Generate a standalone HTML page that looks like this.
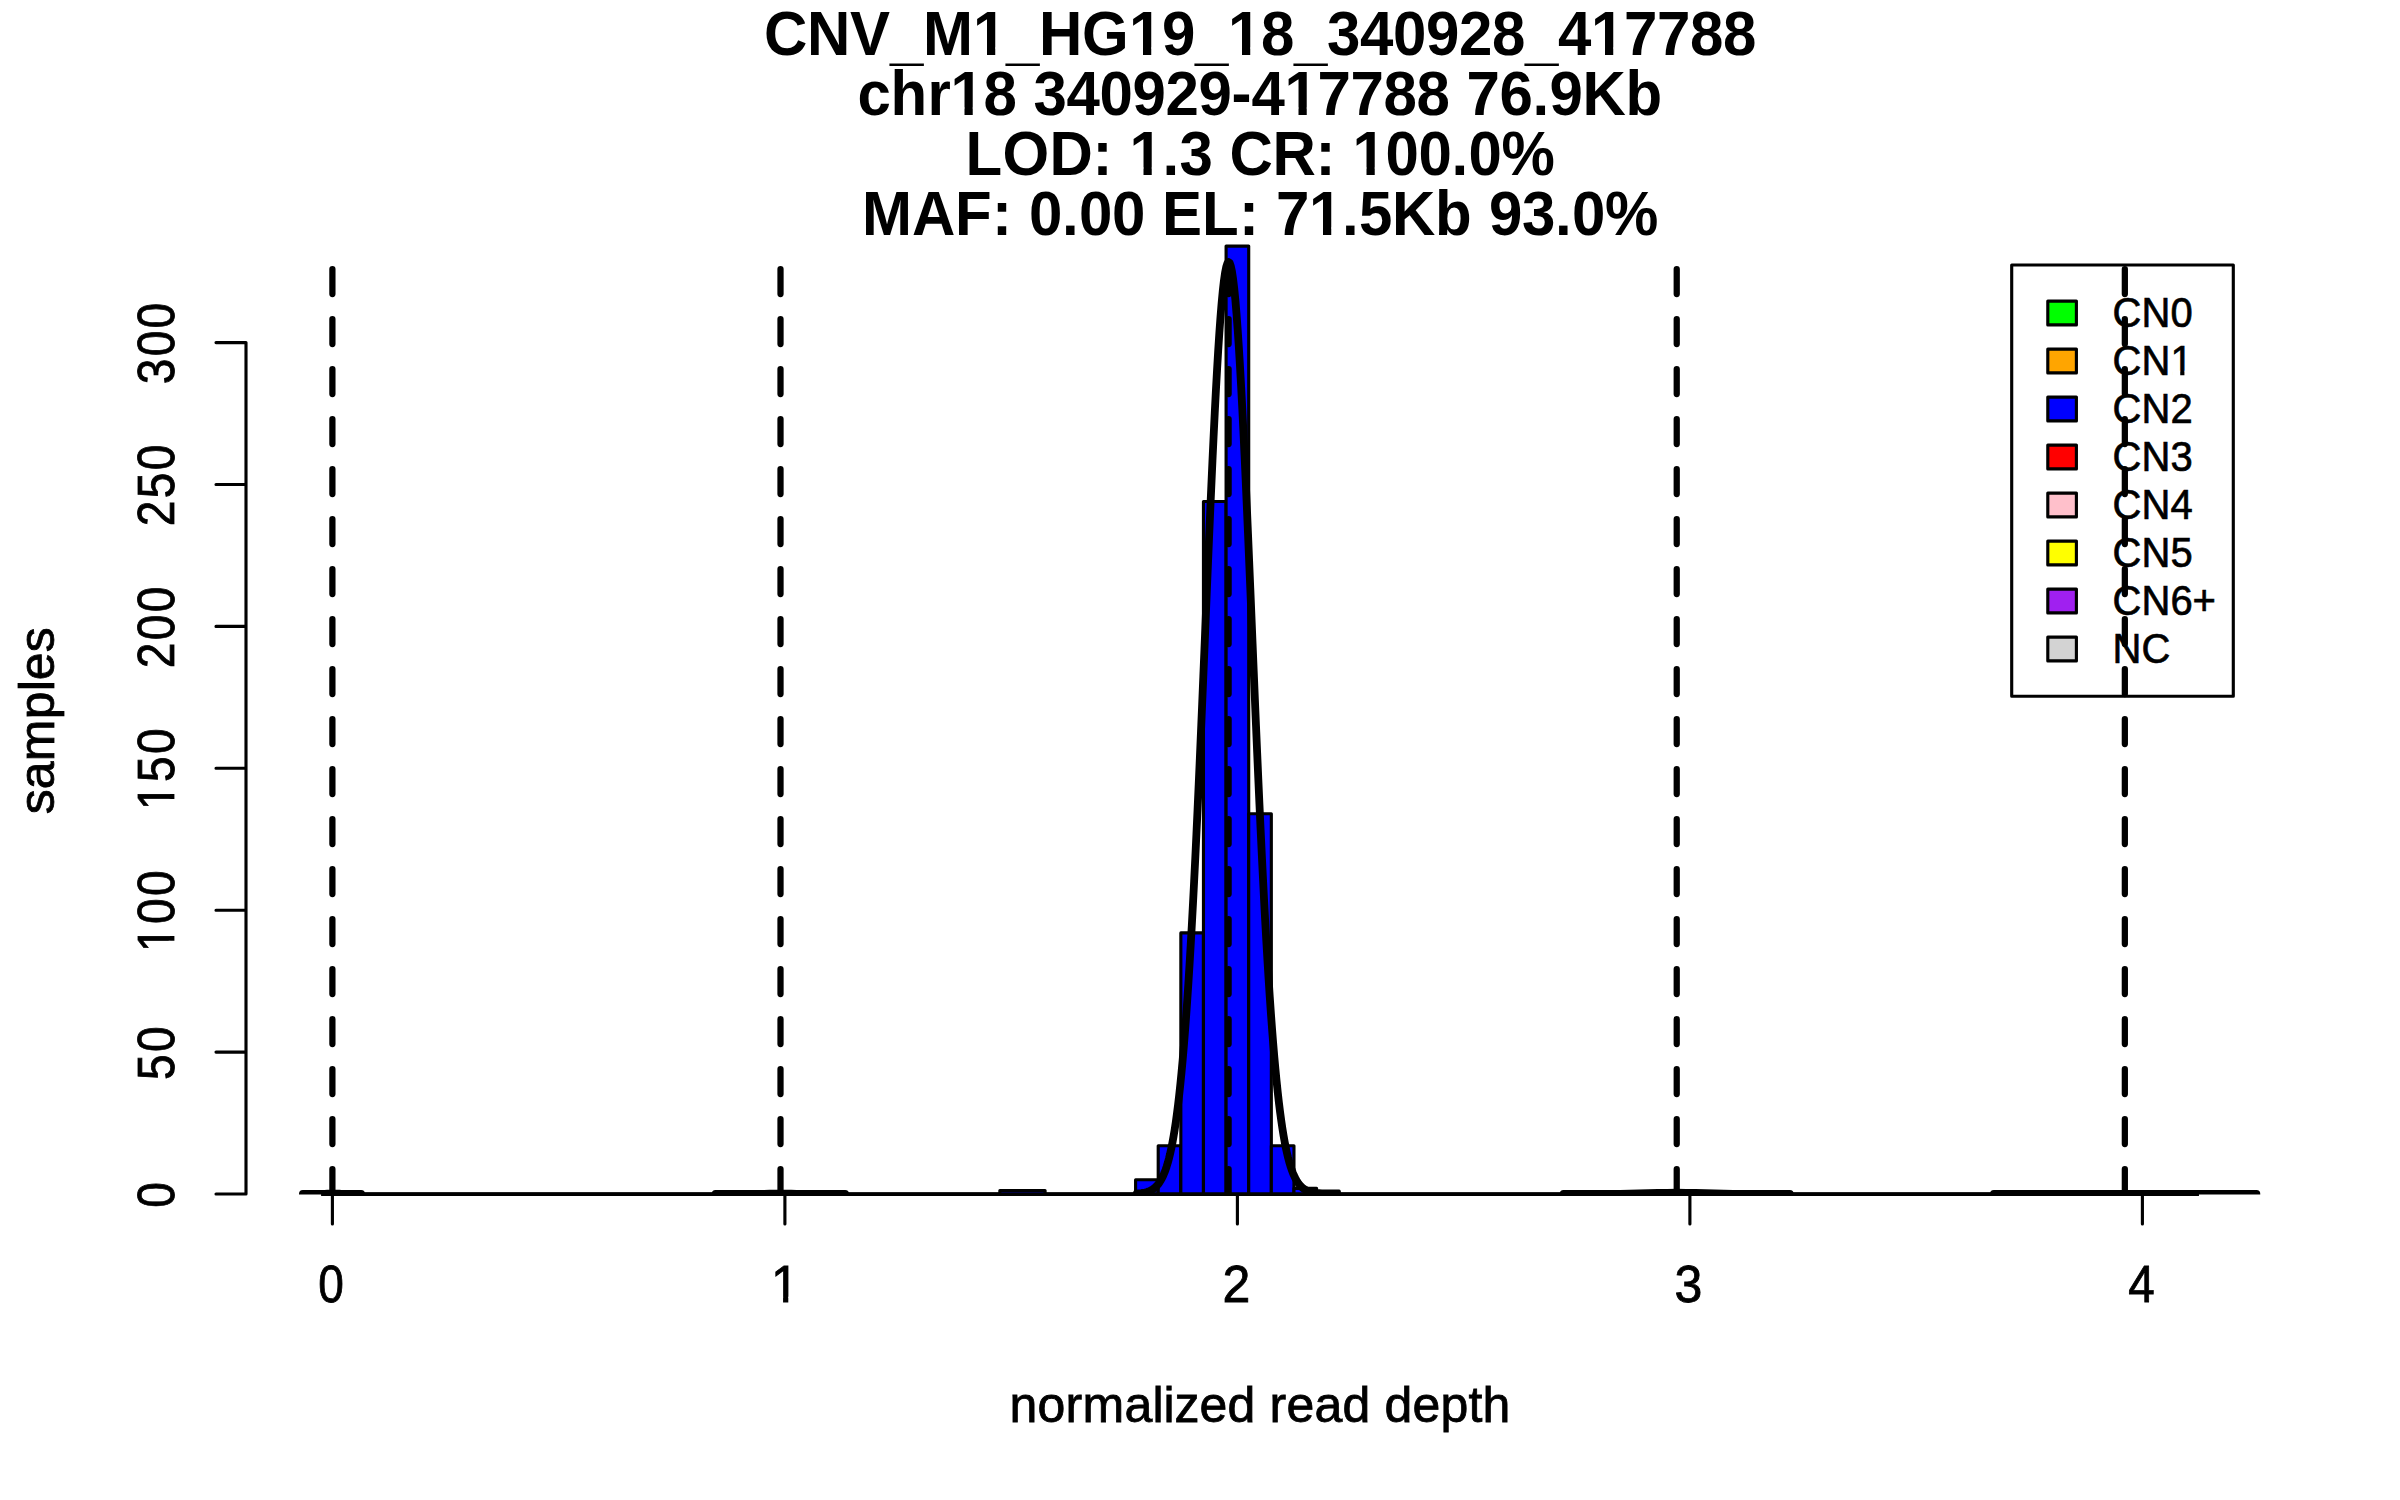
<!DOCTYPE html>
<html><head><meta charset="utf-8"><title>CNV_M1_HG19_18_340928_417788</title>
<style>
html,body{margin:0;padding:0;background:#fff;}
body{width:2400px;height:1500px;overflow:hidden;}
svg{display:block;}
text{font-family:"Liberation Sans",sans-serif;fill:#000;}
.t{font-weight:bold;font-size:60px;}
.a{font-size:50px;stroke:#000;stroke-width:0.8px;}
.l{font-size:40px;stroke:#000;stroke-width:0.65px;}
</style></head><body>
<svg width="2400" height="1500" viewBox="0 0 2400 1500">
<rect width="2400" height="1500" fill="#fff"/>
<defs><clipPath id="pc"><rect x="246" y="240" width="2028" height="954.6"/></clipPath></defs>

<g fill="#0000ff" stroke="#000" stroke-width="3.125" stroke-linejoin="round">
<path d="M321.09 1194.00H2198.96" stroke-width="3.75"/>
<rect x="999.84" y="1190.45" width="45.25" height="3.55"/>
<rect x="1135.59" y="1179.81" width="22.62" height="14.19"/>
<rect x="1158.21" y="1145.75" width="22.62" height="48.25"/>
<rect x="1180.84" y="932.90" width="22.62" height="261.10"/>
<rect x="1203.46" y="501.53" width="22.62" height="692.47"/>
<rect x="1226.09" y="246.11" width="22.62" height="947.89"/>
<rect x="1248.71" y="813.71" width="22.62" height="380.29"/>
<rect x="1271.34" y="1145.75" width="22.62" height="48.25"/>
<rect x="1293.96" y="1188.32" width="22.62" height="5.68"/>
<rect x="1316.59" y="1191.16" width="22.62" height="2.84"/>
</g>
<g fill="none" stroke="#000" stroke-width="3.125" stroke-linecap="round" stroke-linejoin="round">
<path d="M332.40 1194.00H2142.40M332.40 1194.00v30M784.90 1194.00v30M1237.40 1194.00v30M1689.90 1194.00v30M2142.40 1194.00v30"/>
<path d="M246 1194.00V342.60M246 1194.00h-30M246 1052.10h-30M246 910.20h-30M246 768.30h-30M246 626.40h-30M246 484.50h-30M246 342.60h-30"/>
</g>
<g transform="translate(331.00 1302.00) scale(0.9200 1.0300)"><text class="a" x="-14" y="0">0</text></g>
<g transform="translate(784.90 1302.00) scale(1.0000 1.0300)"><text class="a" x="-14" y="0">1</text><path fill="#fff" d="M-11.59 1.40H-1.83V-5.14H-11.59ZM3.39 1.40H12.77V-5.14H3.39Z"/></g>
<g transform="translate(1236.50 1302.00) scale(1.0000 1.0300)"><text class="a" x="-14" y="0">2</text></g>
<g transform="translate(1688.60 1302.00) scale(1.0000 1.0300)"><text class="a" x="-14" y="0">3</text></g>
<g transform="translate(2141.50 1302.00) scale(0.9500 1.0300)"><text class="a" x="-14" y="0">4</text></g>
<g transform="translate(174.00 1194.90) rotate(-90) scale(0.9200 1.0300)"><text class="a" x="-14" y="0">0</text></g>
<g transform="translate(174.00 1053.00) rotate(-90) scale(0.9200 1.0300)"><text class="a" x="-29.22 1.22" y="0">50</text></g>
<g transform="translate(174.00 911.10) rotate(-90) scale(0.9200 1.0300)"><text class="a" x="-44.43 -14 16.43" y="0">100</text><path fill="#fff" d="M-42.03 1.40H-32.26V-5.14H-42.03ZM-27.04 1.40H-17.67V-5.14H-27.04Z"/></g>
<g transform="translate(174.00 769.20) rotate(-90) scale(0.9200 1.0300)"><text class="a" x="-44.43 -14 16.43" y="0">150</text><path fill="#fff" d="M-42.03 1.40H-32.26V-5.14H-42.03ZM-27.04 1.40H-17.67V-5.14H-27.04Z"/></g>
<g transform="translate(174.00 627.30) rotate(-90) scale(0.9200 1.0300)"><text class="a" x="-44.43 -14 16.43" y="0">200</text></g>
<g transform="translate(174.00 485.40) rotate(-90) scale(0.9200 1.0300)"><text class="a" x="-44.43 -14 16.43" y="0">250</text></g>
<g transform="translate(174.00 343.50) rotate(-90) scale(0.9200 1.0300)"><text class="a" x="-44.43 -14 16.43" y="0">300</text></g>
<g transform="translate(1260.00 1422.00)"><text class="a" x="-250.5 -222.5 -194.5 -177.5 -135.5 -107.5 -96.5 -85.5 -60.5 -32.5 -4.5 9.5 26.5 54.5 82.5 110.5 124.5 152.5 180.5 208.5 222.5" y="0">normalized read depth</text></g>
<g transform="translate(54.00 720.70) rotate(-90)"><text class="a" x="-93.5 -68.5 -40.5 1.5 29.5 40.5 68.5" y="0">samples</text></g>
<g transform="translate(1260.00 55.00) scale(1.0000 1.0580)"><text class="t" x="-496 -453 -410 -370 -337 -287 -254 -221 -178 -131 -98 -65 -32 1 34 67 100 133 166 199 232 265 298 331 364 397 430 463" y="0 0 0 2.8 0 0 2.8 0 0 0 0 2.8 0 0 2.8 0 0 0 0 0 0 2.8 0 0 0 0 0 0">CNV_M1_HG19_18_340928_417788</text><path fill="#fff" d="M-284.22 1.00H-273.00V-7.12H-284.22ZM-264.76 1.00H-254.30V-7.12H-264.76ZM-128.22 1.00H-117.00V-7.12H-128.22ZM-108.76 1.00H-98.30V-7.12H-108.76ZM-29.22 1.00H-18.00V-7.12H-29.22ZM-9.76 1.00H0.70V-7.12H-9.76ZM333.78 1.00H345.00V-7.12H333.78ZM353.24 1.00H363.70V-7.12H353.24Z"/></g>
<g transform="translate(1260.00 115.00) scale(1.0000 1.0580)"><text class="t" x="-402.5 -369.5 -332.5 -309.5 -276.5 -243.5 -226.5 -193.5 -160.5 -127.5 -94.5 -61.5 -28.5 -8.5 24.5 57.5 90.5 123.5 156.5 189.5 206.5 239.5 272.5 289.5 322.5 365.5" y="0">chr18 340929-417788 76.9Kb</text><path fill="#fff" d="M-306.72 1.00H-295.50V-7.12H-306.72ZM-287.26 1.00H-276.80V-7.12H-287.26ZM27.28 1.00H38.50V-7.12H27.28ZM46.74 1.00H57.20V-7.12H46.74Z"/></g>
<g transform="translate(1260.00 175.00) scale(1.0000 1.0580)"><text class="t" x="-294.5 -257.5 -210.5 -167.5 -147.5 -130.5 -97.5 -80.5 -47.5 -30.5 12.5 55.5 75.5 92.5 125.5 158.5 191.5 208.5 241.5" y="0">LOD: 1.3 CR: 100.0%</text><path fill="#fff" d="M-127.72 1.00H-116.50V-7.12H-127.72ZM-108.26 1.00H-97.80V-7.12H-108.26ZM95.28 1.00H106.50V-7.12H95.28ZM114.74 1.00H125.20V-7.12H114.74Z"/></g>
<g transform="translate(1260.00 235.00) scale(1.0000 1.0580)"><text class="t" x="-398 -348 -305 -268 -248 -231 -198 -181 -148 -115 -98 -58 -21 -1 16 49 82 99 132 175 212 229 262 295 312 345" y="0">MAF: 0.00 EL: 71.5Kb 93.0%</text><path fill="#fff" d="M51.78 1.00H63.00V-7.12H51.78ZM71.24 1.00H81.70V-7.12H71.24Z"/></g>
<rect x="2011.70" y="265.00" width="221.60" height="431.20" fill="#fff" stroke="#000" stroke-width="3.125" stroke-linejoin="round"/>
<rect x="2047.8" y="301.10" width="28.6" height="23.8" fill="#00ff00" stroke="#000" stroke-width="3.125" stroke-linejoin="round"/>
<g transform="translate(2112.50 327.30) scale(1.0000 1.0550)"><text class="l" x="0 29 58" y="0">CN0</text></g>
<rect x="2047.8" y="349.10" width="28.6" height="23.8" fill="#ffa500" stroke="#000" stroke-width="3.125" stroke-linejoin="round"/>
<g transform="translate(2112.50 375.30) scale(1.0000 1.0550)"><text class="l" x="0 29 58" y="0">CN1</text><path fill="#fff" d="M59.72 1.32H67.73V-4.31H59.72ZM71.92 1.32H79.62V-4.31H71.92Z"/></g>
<rect x="2047.8" y="397.10" width="28.6" height="23.8" fill="#0000ff" stroke="#000" stroke-width="3.125" stroke-linejoin="round"/>
<g transform="translate(2112.50 423.30) scale(1.0000 1.0550)"><text class="l" x="0 29 58" y="0">CN2</text></g>
<rect x="2047.8" y="445.10" width="28.6" height="23.8" fill="#ff0000" stroke="#000" stroke-width="3.125" stroke-linejoin="round"/>
<g transform="translate(2112.50 471.30) scale(1.0000 1.0550)"><text class="l" x="0 29 58" y="0">CN3</text></g>
<rect x="2047.8" y="493.10" width="28.6" height="23.8" fill="#ffc0cb" stroke="#000" stroke-width="3.125" stroke-linejoin="round"/>
<g transform="translate(2112.50 519.30) scale(1.0000 1.0550)"><text class="l" x="0 29 58" y="0">CN4</text></g>
<rect x="2047.8" y="541.10" width="28.6" height="23.8" fill="#ffff00" stroke="#000" stroke-width="3.125" stroke-linejoin="round"/>
<g transform="translate(2112.50 567.30) scale(1.0000 1.0550)"><text class="l" x="0 29 58" y="0">CN5</text></g>
<rect x="2047.8" y="589.10" width="28.6" height="23.8" fill="#a020f0" stroke="#000" stroke-width="3.125" stroke-linejoin="round"/>
<g transform="translate(2112.50 615.30) scale(1.0000 1.0550)"><text class="l" x="0 29 58 80" y="0">CN6+</text></g>
<rect x="2047.8" y="637.10" width="28.6" height="23.8" fill="#d3d3d3" stroke="#000" stroke-width="3.125" stroke-linejoin="round"/>
<g transform="translate(2112.50 663.30) scale(1.0000 1.0550)"><text class="l" x="0 29" y="0">NC</text></g>
<g clip-path="url(#pc)" fill="none" stroke="#000" stroke-width="7.8" stroke-linecap="round" stroke-linejoin="round">
<path d="M302.90 1194.00L305.32 1194.00L307.75 1194.00L310.17 1193.99L312.60 1193.98L315.02 1193.97L317.45 1193.94L319.88 1193.90L322.30 1193.85L324.73 1193.79L327.15 1193.73L329.57 1193.68L332.00 1193.66L334.43 1193.67L336.85 1193.71L339.27 1193.76L341.70 1193.83L344.12 1193.88L346.55 1193.93L348.98 1193.96L351.40 1193.98L353.83 1193.99L356.25 1194.00L358.68 1194.00L361.10 1194.00"/>
<path d="M715.60 1194.00L721.00 1194.00L726.39 1194.00L731.79 1194.00L737.18 1193.99L742.58 1193.98L747.98 1193.96L753.37 1193.93L758.77 1193.88L764.16 1193.83L769.56 1193.77L774.95 1193.73L780.35 1193.72L785.75 1193.73L791.14 1193.77L796.54 1193.82L801.93 1193.88L807.33 1193.92L812.73 1193.96L818.12 1193.98L823.52 1193.99L828.91 1194.00L834.31 1194.00L839.70 1194.00L845.10 1194.00"/>
<path d="M1136.80 1193.59L1137.95 1193.51L1139.09 1193.41L1140.24 1193.28L1141.38 1193.14L1142.53 1192.96L1143.68 1192.76L1144.82 1192.52L1145.97 1192.24L1147.12 1191.90L1148.26 1191.51L1149.41 1191.06L1150.56 1190.53L1151.70 1189.92L1152.85 1189.21L1153.99 1188.38L1155.14 1187.44L1156.29 1186.35L1157.43 1185.10L1158.58 1183.68L1159.72 1182.05L1160.87 1180.20L1162.02 1178.11L1163.16 1175.74L1164.31 1173.07L1165.46 1170.07L1166.60 1166.70L1167.75 1162.93L1168.89 1158.73L1170.04 1154.05L1171.19 1148.86L1172.33 1143.13L1173.48 1136.80L1174.63 1129.84L1175.77 1122.21L1176.92 1113.86L1178.07 1104.76L1179.21 1094.86L1180.36 1084.13L1181.50 1072.53L1182.65 1060.03L1183.80 1046.61L1184.94 1032.22L1186.09 1016.86L1187.23 1000.51L1188.38 983.16L1189.53 964.81L1190.67 945.46L1191.82 925.12L1192.97 903.83L1194.11 881.60L1195.26 858.47L1196.40 834.50L1197.55 809.75L1198.70 784.29L1199.84 758.19L1200.99 731.54L1202.14 704.45L1203.28 677.01L1204.43 649.36L1205.58 621.61L1206.72 593.89L1207.87 566.34L1209.01 539.12L1210.16 512.36L1211.31 486.21L1212.45 460.83L1213.60 436.37L1214.74 412.98L1215.89 390.81L1217.04 370.00L1218.18 350.69L1219.33 333.00L1220.48 317.06L1221.62 302.98L1222.77 290.85L1223.91 280.76L1225.06 272.78L1226.21 266.97L1227.35 263.37L1228.50 262.01L1229.65 262.90L1230.79 266.02L1231.94 271.37L1233.09 278.89L1234.23 288.54L1235.38 300.24L1236.52 313.92L1237.67 329.47L1238.82 346.80L1239.96 365.78L1241.11 386.28L1242.26 408.18L1243.40 431.32L1244.55 455.57L1245.69 480.76L1246.84 506.76L1247.99 533.40L1249.13 560.54L1250.28 588.03L1251.42 615.72L1252.57 643.48L1253.72 671.16L1254.86 698.66L1256.01 725.83L1257.16 752.58L1258.30 778.81L1259.45 804.41L1260.60 829.32L1261.74 853.46L1262.89 876.77L1264.03 899.19L1265.18 920.69L1266.33 941.23L1267.47 960.79L1268.62 979.36L1269.77 996.92L1270.91 1013.48L1272.06 1029.05L1273.20 1043.64L1274.35 1057.27L1275.50 1069.96L1276.64 1081.75L1277.79 1092.66L1278.93 1102.73L1280.08 1111.99L1281.23 1120.50L1282.37 1128.28L1283.52 1135.38L1284.67 1141.84L1285.81 1147.70L1286.96 1152.99L1288.11 1157.78L1289.25 1162.08L1290.40 1165.93L1291.54 1169.38L1292.69 1172.46L1293.84 1175.20L1294.98 1177.63L1296.13 1179.78L1297.28 1181.68L1298.42 1183.35L1299.57 1184.82L1300.71 1186.10L1301.86 1187.22L1303.01 1188.19L1304.15 1189.04L1305.30 1189.78L1306.44 1190.41L1307.59 1190.96L1308.74 1191.42L1309.88 1191.83L1311.03 1192.17L1312.18 1192.46L1313.32 1192.71L1314.47 1192.92L1315.62 1193.10L1316.76 1193.25L1317.91 1193.38L1319.05 1193.49L1320.20 1193.58"/>
<path d="M1563.60 1194.00L1573.02 1194.00L1582.45 1193.99L1591.88 1193.98L1601.30 1193.96L1610.72 1193.91L1620.15 1193.82L1629.57 1193.67L1639.00 1193.47L1648.42 1193.22L1657.85 1192.97L1667.27 1192.79L1676.70 1192.72L1686.12 1192.79L1695.55 1192.97L1704.97 1193.22L1714.40 1193.46L1723.82 1193.67L1733.25 1193.82L1742.67 1193.91L1752.10 1193.96L1761.52 1193.98L1770.95 1193.99L1780.38 1194.00L1789.80 1194.00"/>
<path d="M1993.90 1194.00L2004.84 1194.00L2015.78 1194.00L2026.71 1194.00L2037.65 1194.00L2048.59 1193.99L2059.53 1193.98L2070.46 1193.96L2081.40 1193.94L2092.34 1193.91L2103.28 1193.89L2114.21 1193.87L2125.15 1193.86L2136.09 1193.87L2147.03 1193.89L2157.96 1193.91L2168.90 1193.94L2179.84 1193.96L2190.78 1193.98L2201.71 1193.99L2212.65 1194.00L2223.59 1194.00L2234.53 1194.00L2245.46 1194.00L2256.40 1194.00"/>
</g>
<g clip-path="url(#pc)" fill="none" stroke="#000" stroke-width="6.25" stroke-linecap="round" stroke-dasharray="25 25">
<path d="M332.40 269V1200"/>
<path d="M780.51 269V1200"/>
<path d="M1228.62 269V1200"/>
<path d="M1676.73 269V1200"/>
<path d="M2124.84 269V1200"/>
</g>
</svg></body></html>
